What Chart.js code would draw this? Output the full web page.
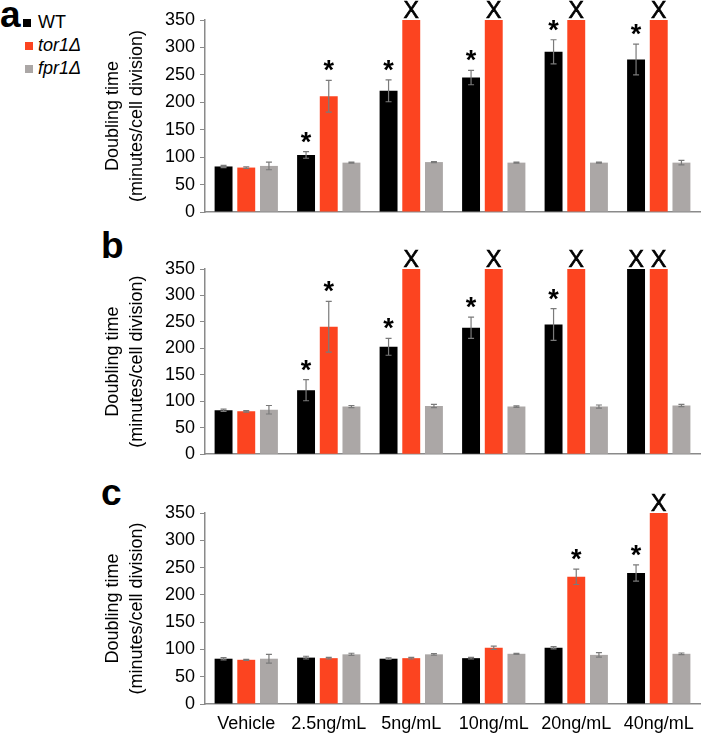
<!DOCTYPE html>
<html lang="en">
<head>
<meta charset="UTF-8">
<title>Doubling time</title>
<script src="https://cdn.jsdelivr.net/npm/chart.js@4.4.0/dist/chart.umd.min.js"></script>
<style>
    body { margin: 0; background: #fff; font-family: 'Liberation Sans', Arial, sans-serif; }
    #wrap { position: relative; width: 716px; height: 734px; overflow: hidden; }
    canvas { position: absolute; left: 90px; }
    .letter { position: absolute; font-weight: bold; font-size: 37px; line-height: 37px; }
    .key { position: absolute; left: 23px; font-size: 18px; line-height: 18px; }
    .key span.sq { position: absolute; width: 8px; height: 8px; top: 6px; left: 0; }
    .key span.lbl { position: absolute; left: 15px; top: 0; white-space: nowrap; }
</style>
</head>
<body>
<div id="wrap">
    <div class="letter" style="left:0px;top:-4px;">a</div>
    <div class="letter" style="left:101px;top:227px;">b</div>
    <div class="letter" style="left:101px;top:474px;">c</div>

    <!-- legend -->
    <div class="key" style="top:13px;"><span class="sq" style="background:#000;"></span><span class="lbl">WT</span></div>
    <div class="key" style="top:36px;left:25px;"><span class="sq" style="background:#fc4420;"></span><span class="lbl" style="left:13px;font-style:italic;">tor1Δ</span></div>
    <div class="key" style="top:59px;left:25px;"><span class="sq" style="background:#aba7a6;"></span><span class="lbl" style="left:13px;font-style:italic;">fpr1Δ</span></div>

    <canvas id="chartA" width="626" height="230" style="top:0px;"></canvas>
    <canvas id="chartB" width="626" height="240" style="top:230px;"></canvas>
    <canvas id="chartC" width="626" height="264" style="top:470px;"></canvas>
</div>

<script>
    const doses = ['Vehicle', '2.5ng/mL', '5ng/mL', '10ng/mL', '20ng/mL', '40ng/mL'];
    const yTicks = [0, 50, 100, 150, 200, 250, 300, 350];

    // panel a
    const wtA = [83, 104, 221, 245, 292, 278];
    const wtErrA = [2, 6, 20, 13, 22, 28];
    const torA = [81, 211, 350, 350, 350, 350];
    const torErrA = [1.5, 29, 0, 0, 0, 0];
    const fprA = [84, 90, 91, 90, 90, 90];
    const fprErrA = [7, 1, 1, 1, 1, 4];
    const wtMarksA = ['', '*', '*', '*', '*', '*'];
    const torMarksA = ['', '*', 'X', 'X', 'X', 'X'];

    // panel b
    const wtB = [83, 121, 203, 239, 245, 350];
    const wtErrB = [2, 20, 16, 20, 30, 0];
    const torB = [81, 241, 350, 350, 350, 350];
    const torErrB = [1.5, 48, 0, 0, 0, 0];
    const fprB = [84, 90, 91, 90, 90, 92];
    const fprErrB = [8, 2, 3, 1.5, 3, 2];
    const wtMarksB = ['', '*', '*', '*', '*', 'X'];
    const torMarksB = ['', '*', 'X', 'X', 'X', 'X'];

    // panel c
    const wtC = [83, 85, 83, 84, 103, 240];
    const wtErrC = [2, 2.5, 1.5, 1.5, 2, 15];
    const torC = [81, 84, 84, 103, 233, 350];
    const torErrC = [1, 1.5, 1.5, 3, 14, 0];
    const fprC = [83, 91, 91, 92, 90, 92];
    const fprErrC = [8, 2, 1.5, 1, 4, 1.5];
    const wtMarksC = ['', '', '', '', '', '*'];
    const torMarksC = ['', '', '', '', '*', 'X'];

    const FONT = "'Liberation Sans', Arial, sans-serif";

    // error bars + significance marks, positioned through the chart scales
    const errorBarPlugin = {
        id: 'errorBars',
        afterDatasetsDraw(chart) {
            const ctx = chart.ctx;
            const yScale = chart.scales.y;
            ctx.save();
            chart.data.datasets.forEach((ds, di) => {
                const meta = chart.getDatasetMeta(di);
                meta.data.forEach((bar, i) => {
                    const v = ds.data[i];
                    const e = ds.errors ? ds.errors[i] : 0;
                    const top = yScale.getPixelForValue(v + e);
                    if (e > 0) {
                        const bot = yScale.getPixelForValue(v - e);
                        ctx.strokeStyle = '#7a7a7a';
                        ctx.lineWidth = 1.2;
                        ctx.beginPath();
                        ctx.moveTo(bar.x, top); ctx.lineTo(bar.x, bot);
                        ctx.moveTo(bar.x - 3, top); ctx.lineTo(bar.x + 3, top);
                        ctx.moveTo(bar.x - 3, bot); ctx.lineTo(bar.x + 3, bot);
                        ctx.stroke();
                    }
                    const m = ds.marks ? ds.marks[i] : '';
                    ctx.fillStyle = '#000';
                    ctx.strokeStyle = '#000';
                    ctx.textAlign = 'center';
                    ctx.textBaseline = 'alphabetic';
                    if (m === '*') {
                        ctx.font = 'bold 27px ' + FONT;
                        ctx.fillText('*', bar.x, top - 1);
                    } else if (m === 'X') {
                        const by = yScale.getPixelForValue(v) - 2;
                        ctx.font = '23px ' + FONT;
                        ctx.lineWidth = 0.7;
                        ctx.fillText('X', bar.x, by);
                        ctx.strokeText('X', bar.x, by);
                    }
                });
            });
            ctx.restore();
        }
    };

    function makePanel(id, series, padTop, xHeight, showLabels) {
        const colors = ['#000000', '#fc4420', '#aba7a6'];
        const names = ['WT', 'tor1Δ', 'fpr1Δ'];
        return new Chart(document.getElementById(id), {
            type: 'bar',
            data: {
                labels: doses,
                datasets: series.map((s, k) => ({
                    label: names[k],
                    data: s.values,
                    errors: s.errors,
                    marks: s.marks,
                    backgroundColor: colors[k],
                    categoryPercentage: 0.825,
                    barPercentage: 0.79
                }))
            },
            options: {
                responsive: false,
                animation: false,
                devicePixelRatio: 1,
                layout: { padding: { top: padTop, right: 16, bottom: 0, left: 0 } },
                plugins: { legend: { display: false }, tooltip: { enabled: false } },
                scales: {
                    x: {
                        grid: { display: false },
                        border: { display: true, color: '#8a8a8a', width: 1.5 },
                        ticks: { display: showLabels, color: '#000', padding: 1, maxRotation: 0, autoSkip: false,
                                 font: { family: FONT, size: 18 } },
                        afterFit: (s) => { s.height = xHeight; }
                    },
                    y: {
                        min: 0, max: 350,
                        afterBuildTicks: (s) => { s.ticks = yTicks.map(v => ({ value: v })); },
                        grid: { display: true, drawOnChartArea: false, tickLength: 5, color: '#8a8a8a' },
                        border: { display: true, color: '#8a8a8a', width: 1.5 },
                        ticks: { color: '#000', padding: 5, font: { family: FONT, size: 18 } },
                        title: {
                            display: true,
                            text: ['Doubling time', '(minutes/cell division)'],
                            color: '#000',
                            font: { family: FONT, size: 18, lineHeight: 1.33 },
                            padding: { top: 11, bottom: 0 }
                        },
                        afterFit: (s) => { s.width = 115; }
                    }
                }
            },
            plugins: [errorBarPlugin]
        });
    }

    makePanel('chartA', [
        { values: wtA, errors: wtErrA, marks: wtMarksA },
        { values: torA, errors: torErrA, marks: torMarksA },
        { values: fprA, errors: fprErrA }
    ], 20, 18, false);

    makePanel('chartB', [
        { values: wtB, errors: wtErrB, marks: wtMarksB },
        { values: torB, errors: torErrB, marks: torMarksB },
        { values: fprB, errors: fprErrB }
    ], 39, 12, false);

    makePanel('chartC', [
        { values: wtC, errors: wtErrC, marks: wtMarksC },
        { values: torC, errors: torErrC, marks: torMarksC },
        { values: fprC, errors: fprErrC }
    ], 43, 30, true);
</script>
</body>
</html>
